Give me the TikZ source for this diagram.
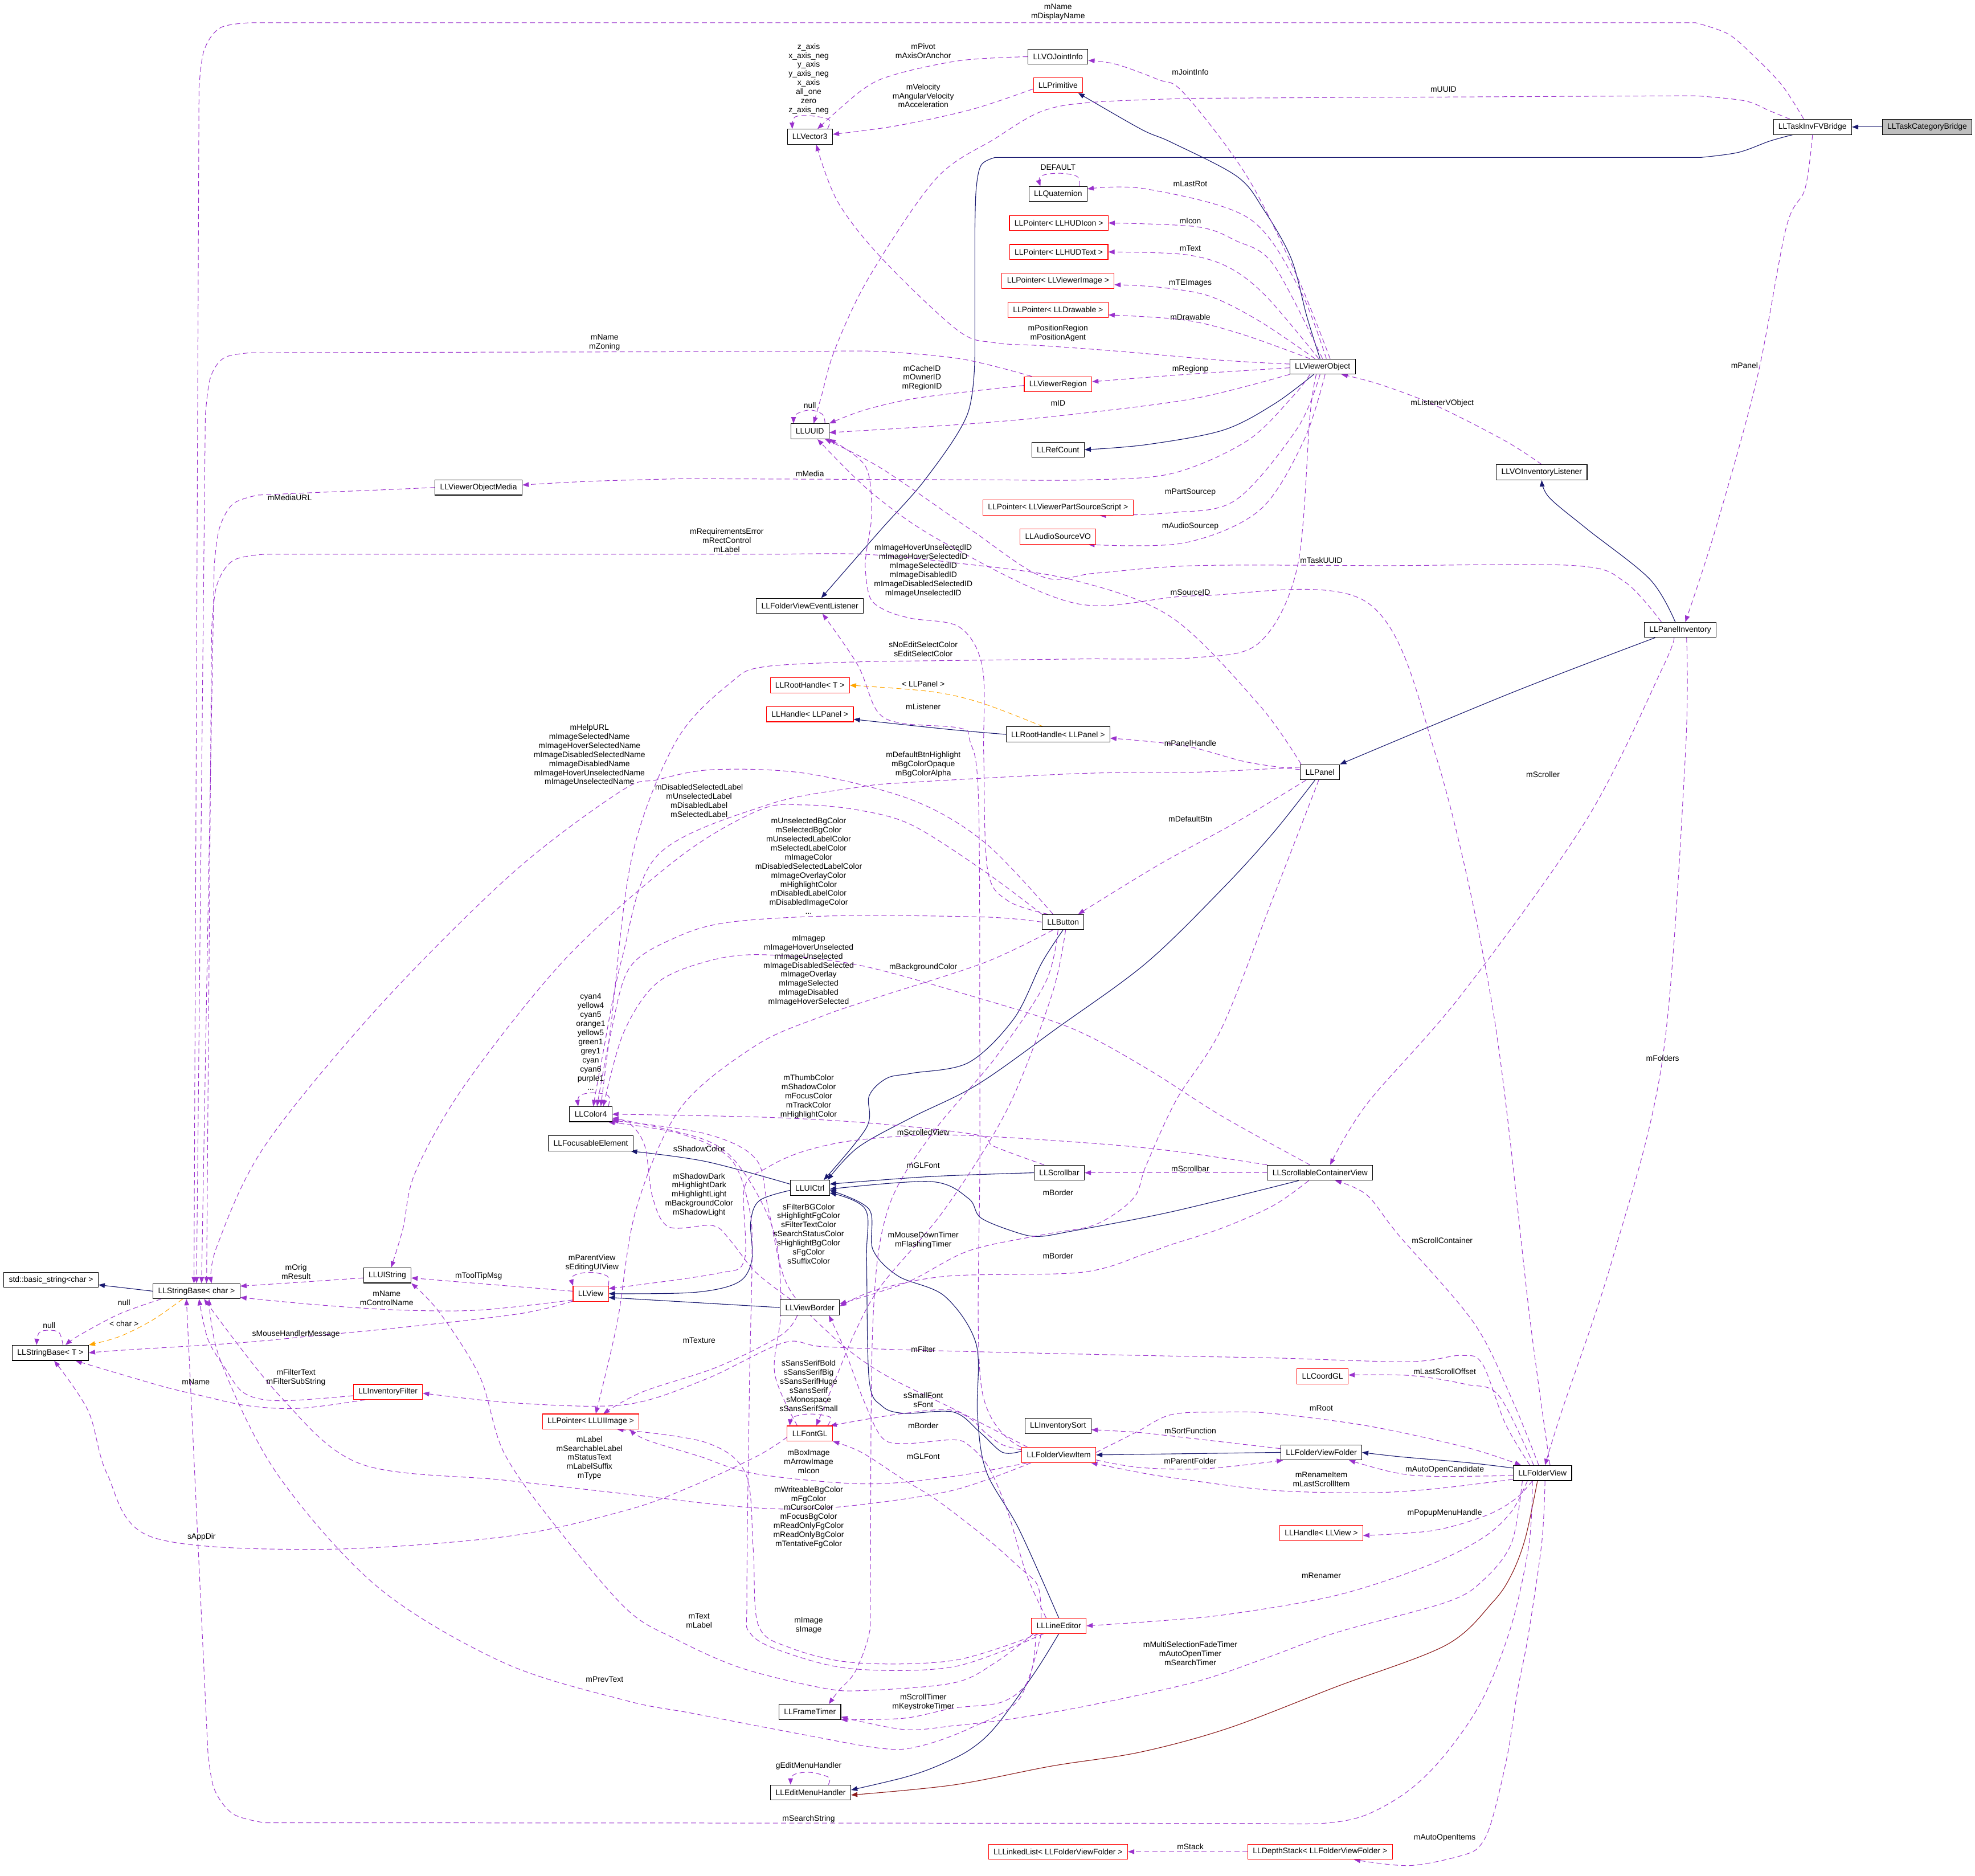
\documentclass[tikz,border=0pt]{standalone}
\usepackage{fontspec}
\setmainfont{Liberation Sans}
\usetikzlibrary{arrows.meta}
\definecolor{navy}{HTML}{191970}
\definecolor{purp}{HTML}{9A32CD}
\definecolor{orng}{HTML}{FFA500}
\definecolor{dred}{HTML}{8B1A1A}
\definecolor{gfill}{HTML}{BFBFBF}
\pgfdeclarelayer{bg}
\pgfsetlayers{bg,main}
\begin{document}
\begin{tikzpicture}[x=1pt,y=-1pt,
  font=\fontsize{6.3}{7.2}\selectfont,
  cls/.style={draw=black,line width=0.5pt,inner xsep=4pt,inner ysep=0pt,minimum height=12pt,fill=white},
  rcls/.style={cls,draw=red},
  cur/.style={cls,fill=gfill},
  lbl/.style={align=center,inner sep=0pt},
  tip/.style={-{Triangle[length=5pt,width=3.8pt]}},
  inh/.style={tip,draw=navy,line width=0.5pt},
  use/.style={tip,draw=purp,line width=0.45pt,dash pattern=on 4pt off 2.5pt},
  tpl/.style={tip,draw=orng,line width=0.45pt,dash pattern=on 4pt off 2.5pt},
  prv/.style={tip,draw=dred,line width=0.5pt},
  sm/.style={smooth,tension=0.55}]
\useasboundingbox (0,0) rectangle (1568,1489);
% ---------------- nodes
\node[cur] (tcb) at (1530,100.8) {LLTaskCategoryBridge};
\node[cls] (tifb) at (1439,100.8) {LLTaskInvFVBridge};
\node[cls] (jointinfo) at (840,45) {LLVOJointInfo};
\node[rcls] (prim) at (840,67.6) {LLPrimitive};
\node[cls] (v3) at (643,108.6) {LLVector3};
\node[cls] (quat) at (840,154) {LLQuaternion};
\node[rcls] (hudicon) at (840.6,177) {LLPointer< LLHUDIcon >};
\node[rcls] (hudtext) at (840.6,200) {LLPointer< LLHUDText >};
\node[rcls] (vimg) at (840,223) {LLPointer< LLViewerImage >};
\node[rcls] (drawable) at (840,246) {LLPointer< LLDrawable >};
\node[cls] (vobj) at (1050,291) {LLViewerObject};
\node[rcls] (vregion) at (840,305) {LLViewerRegion};
\node[cls] (uuid) at (643,342.4) {LLUUID};
\node[cls] (refcount) at (840,357) {LLRefCount};
\node[cls] (vomedia) at (380,387) {LLViewerObjectMedia};
\node[rcls] (partsrc) at (840,403) {LLPointer< LLViewerPartSourceScript >};
\node[rcls] (audio) at (840,426) {LLAudioSourceVO};
\node[cls] (voinvl) at (1224,375) {LLVOInventoryListener};
\node[cls] (fvel) at (643,481) {LLFolderViewEventListener};
\node[cls] (panelinv) at (1334,500) {LLPanelInventory};
\node[rcls] (roothT) at (643,544) {LLRootHandle< T >};
\node[rcls] (handleP) at (643,567) {LLHandle< LLPanel >};
\node[cls] (roothP) at (840,583) {LLRootHandle< LLPanel >};
\node[cls] (panel) at (1048,613) {LLPanel};
\node[cls] (button) at (844,732) {LLButton};
\node[cls] (color4) at (469,884.5) {LLColor4};
\node[cls] (focus) at (469,907.6) {LLFocusableElement};
\node[cls] (uictrl) at (643,943) {LLUICtrl};
\node[cls] (scrollbar) at (841,931) {LLScrollbar};
\node[cls] (scv) at (1048,931) {LLScrollableContainerView};
\node[cls] (stdstr) at (40.5,1016) {std::basic\_string<char >};
\node[cls] (sbchar) at (156,1025) {LLStringBase< char >};
\node[cls] (uistr) at (307.5,1012.5) {LLUIString};
\node[rcls] (view) at (469,1027) {LLView};
\node[cls] (sbT) at (40,1074) {LLStringBase< T >};
\node[cls] (vborder) at (643,1038) {LLViewBorder};
\node[rcls] (invfilter) at (308,1105) {LLInventoryFilter};
\node[rcls] (uiimage) at (469,1128.5) {LLPointer< LLUIImage >};
\node[rcls] (fontgl) at (643,1138) {LLFontGL};
\node[rcls] (coordgl) at (1050,1092.6) {LLCoordGL};
\node[cls] (invsort) at (840,1132) {LLInventorySort};
\node[rcls] (fvitem) at (840.6,1155) {LLFolderViewItem};
\node[cls] (fvfolder) at (1049,1153) {LLFolderViewFolder};
\node[cls] (fview) at (1224.6,1169.4) {LLFolderView};
\node[rcls] (handleV) at (1049,1217) {LLHandle< LLView >};
\node[rcls] (lineed) at (840.6,1290.7) {LLLineEditor};
\node[cls] (frametimer) at (643,1359) {LLFrameTimer};
\node[cls] (editmenu) at (643.6,1423) {LLEditMenuHandler};
\node[rcls] (linkedlist) at (840,1470) {LLLinkedList< LLFolderViewFolder >};
\node[rcls] (depthstack) at (1048,1470) {LLDepthStack< LLFolderViewFolder >};
% ---------------- labels
\node[lbl] (l1) at (840,9.5) {mName\\mDisplayName};
\node[lbl] (l2) at (1146,71) {mUUID};
\node[lbl] (l3) at (1385,290) {mPanel};
\node[lbl] (l4) at (642,62.5) {z\_axis\\x\_axis\_neg\\y\_axis\\y\_axis\_neg\\x\_axis\\all\_one\\zero\\z\_axis\_neg};
\node[lbl] (l5) at (733,40.5) {mPivot\\mAxisOrAnchor};
\node[lbl] (l6) at (733,76) {mVelocity\\mAngularVelocity\\mAcceleration};
\node[lbl] (l7) at (945,57) {mJointInfo};
\node[lbl] (l8) at (840,133) {DEFAULT};
\node[lbl] (l9) at (945,146) {mLastRot};
\node[lbl] (l10) at (945,175.5) {mIcon};
\node[lbl] (l11) at (945,197) {mText};
\node[lbl] (l12) at (945,225) {mTEImages};
\node[lbl] (l13) at (945,251.5) {mDrawable};
\node[lbl] (l14) at (840,264.5) {mPositionRegion\\mPositionAgent};
\node[lbl] (l15) at (945,293) {mRegionp};
\node[lbl] (l16) at (732,300) {mCacheID\\mOwnerID\\mRegionID};
\node[lbl] (l17) at (643,322) {null};
\node[lbl] (l18) at (840,320) {mID};
\node[lbl] (l19) at (480,272) {mName\\mZoning};
\node[lbl] (l20) at (230,395) {mMediaURL};
\node[lbl] (l21) at (643,376) {mMedia};
\node[lbl] (l22) at (1145,320) {mListenerVObject};
\node[lbl] (l23) at (945,391) {mPartSourcep};
\node[lbl] (l24) at (945,418) {mAudioSourcep};
\node[lbl] (l25) at (577,429) {mRequirementsError\\mRectControl\\mLabel};
\node[lbl] (l26) at (733,453) {mImageHoverUnselectedID\\mImageHoverSelectedID\\mImageSelectedID\\mImageDisabledID\\mImageDisabledSelectedID\\mImageUnselectedID};
\node[lbl] (l27) at (1049,445) {mTaskUUID};
\node[lbl] (l28) at (945,470) {mSourceID};
\node[lbl] (l29) at (733,515.5) {sNoEditSelectColor\\sEditSelectColor};
\node[lbl] (l30) at (733,543) {< LLPanel >};
\node[lbl] (l31) at (733,561) {mListener};
\node[lbl] (l32) at (945,590) {mPanelHandle};
\node[lbl] (l33) at (468,599.5) {mHelpURL\\mImageSelectedName\\mImageHoverSelectedName\\mImageDisabledSelectedName\\mImageDisabledName\\mImageHoverUnselectedName\\mImageUnselectedName};
\node[lbl] (l34) at (733,607) {mDefaultBtnHighlight\\mBgColorOpaque\\mBgColorAlpha};
\node[lbl] (l35) at (555,635.5) {mDisabledSelectedLabel\\mUnselectedLabel\\mDisabledLabel\\mSelectedLabel};
\node[lbl] (l36) at (1225,615) {mScroller};
\node[lbl] (l37) at (945,650) {mDefaultBtn};
\node[lbl] (l38) at (642,687.5) {mUnselectedBgColor\\mSelectedBgColor\\mUnselectedLabelColor\\mSelectedLabelColor\\mImageColor\\mDisabledSelectedLabelColor\\mImageOverlayColor\\mHighlightColor\\mDisabledLabelColor\\mDisabledImageColor\\...};
\node[lbl] (l39) at (642,770.5) {mImagep\\mImageHoverUnselected\\mImageUnselected\\mImageDisabledSelected\\mImageOverlay\\mImageSelected\\mImageDisabled\\mImageHoverSelected};
\node[lbl] (l40) at (733,768) {mBackgroundColor};
\node[lbl] (l41) at (469,827) {cyan4\\yellow4\\cyan5\\orange1\\yellow5\\green1\\grey1\\cyan\\cyan6\\purple1\\...};
\node[lbl] (l42) at (1320,840) {mFolders};
\node[lbl] (l43) at (642,870.5) {mThumbColor\\mShadowColor\\mFocusColor\\mTrackColor\\mHighlightColor};
\node[lbl] (l44) at (733,899) {mScrolledView};
\node[lbl] (l45) at (555,912) {sShadowColor};
\node[lbl] (l46) at (733,925) {mGLFont};
\node[lbl] (l47) at (945,928) {mScrollbar};
\node[lbl] (l48) at (555,948.5) {mShadowDark\\mHighlightDark\\mHighlightLight\\mBackgroundColor\\mShadowLight};
\node[lbl] (l49) at (840,947) {mBorder};
\node[lbl] (l50) at (642,979.5) {sFilterBGColor\\sHighlightFgColor\\sFilterTextColor\\sSearchStatusColor\\sHighlightBgColor\\sFgColor\\sSuffixColor};
\node[lbl] (l51) at (733,984.5) {mMouseDownTimer\\mFlashingTimer};
\node[lbl] (l52) at (1145,985) {mScrollContainer};
\node[lbl] (l53) at (840,997) {mBorder};
\node[lbl] (l54) at (470,1002.5) {mParentView\\sEditingUIView};
\node[lbl] (l55) at (235,1009.5) {mOrig\\mResult};
\node[lbl] (l56) at (380,1013) {mToolTipMsg};
\node[lbl] (l57) at (307,1030.5) {mName\\mControlName};
\node[lbl] (l58) at (98.5,1034) {null};
\node[lbl] (l59) at (98.5,1051) {< char >};
\node[lbl] (l60) at (39,1052) {null};
\node[lbl] (l61) at (235,1059) {sMouseHandlerMessage};
\node[lbl] (l62) at (555,1064) {mTexture};
\node[lbl] (l63) at (733,1071) {mFilter};
\node[lbl] (l64) at (235,1093.5) {mFilterText\\mFilterSubString};
\node[lbl] (l65) at (155.5,1097) {mName};
\node[lbl] (l66) at (642,1100) {sSansSerifBold\\sSansSerifBig\\sSansSerifHuge\\sSansSerif\\sMonospace\\sSansSerifSmall};
\node[lbl] (l67) at (1147,1089) {mLastScrollOffset};
\node[lbl] (l68) at (733,1111.5) {sSmallFont\\sFont};
\node[lbl] (l69) at (1049,1118) {mRoot};
\node[lbl] (l70) at (733,1132) {mBorder};
\node[lbl] (l71) at (945,1136) {mSortFunction};
\node[lbl] (l72) at (642,1160.5) {mBoxImage\\mArrowImage\\mIcon};
\node[lbl] (l73) at (468,1157.5) {mLabel\\mSearchableLabel\\mStatusText\\mLabelSuffix\\mType};
\node[lbl] (l74) at (733,1156.5) {mGLFont};
\node[lbl] (l75) at (945,1160) {mParentFolder};
\node[lbl] (l76) at (1147,1167) {mAutoOpenCandidate};
\node[lbl] (l77) at (1049,1174.5) {mRenameItem\\mLastScrollItem};
\node[lbl] (l78) at (642,1204.5) {mWriteableBgColor\\mFgColor\\mCursorColor\\mFocusBgColor\\mReadOnlyFgColor\\mReadOnlyBgColor\\mTentativeFgColor};
\node[lbl] (l79) at (1147,1201) {mPopupMenuHandle};
\node[lbl] (l80) at (160,1220) {sAppDir};
\node[lbl] (l81) at (1049,1251) {mRenamer};
\node[lbl] (l82) at (555,1286.5) {mText\\mLabel};
\node[lbl] (l83) at (642,1290.5) {mImage\\sImage};
\node[lbl] (l84) at (945,1312.5) {mMultiSelectionFadeTimer\\mAutoOpenTimer\\mSearchTimer};
\node[lbl] (l85) at (480,1333) {mPrevText};
\node[lbl] (l86) at (733,1351.5) {mScrollTimer\\mKeystrokeTimer};
\node[lbl] (l87) at (642,1402) {gEditMenuHandler};
\node[lbl] (l88) at (642,1444) {mSearchString};
\node[lbl] (l89) at (945,1466) {mStack};
\node[lbl] (l90) at (1147,1459) {mAutoOpenItems};
% ---------------- edges
\begin{pgfonlayer}{bg}
\fill[white] (0,0) rectangle (1568,1489);
% inheritance
\draw[inh] (tcb.west) -- (tifb.east);
\draw[inh] plot[sm] coordinates {([xshift=-16]tifb.south) (1405,112) (1380,121) (1350,125)} -- plot[sm] coordinates {(790,125) (779,131) (775,150) (774,182)} -- plot[sm] coordinates {(774,280) (768,329) (735,380) (698,422) ([xshift=9]fvel.north)};
\draw[inh] plot[sm] coordinates {([xshift=-2]vobj.north) (1037.6,251.5) (1025,205) (1003,166) (982,140) (930,113) (906,102.6) ([xshift=16]prim.south)};
\draw[inh] plot[sm] coordinates {([xshift=-7]vobj.south) (1011.6,320.7) (971,341.5) (910,353) (refcount.east)};
\draw[inh] plot[sm] coordinates {([xshift=-4]panelinv.north) (1310,460) (1260,420) (1230,395) (voinvl.south)};
\draw[inh] plot[sm] coordinates {([xshift=-20]panelinv.south) (1200,550) (panel.north east)};
\draw[inh] plot[sm] coordinates {([xshift=-4]panel.south) (1011,661) (971,705) (910,764.5) (839.5,816) (776,861) (724,887) (681,911) ([xshift=14]uictrl.north)};
\draw[inh] plot[sm] coordinates {(button.south) (827,764.5) (805,808.6) (769,843.5) (724,852) (704,856) (690,870) (688,895) ([xshift=11]uictrl.north)};
\draw[inh] plot[sm] coordinates {(scrollbar.west) (739,934) ([yshift=3]uictrl.east)};
\draw[inh] plot[sm] coordinates {([xshift=-17]scv.south) (930,962) (850,977.5) (825.6,981.5) (809,979) (779,967) (769,951.5) (739,938) ([yshift=-1]uictrl.east)};
\draw[inh] plot[sm] coordinates {([yshift=3]uictrl.west) (560,922) ([xshift=-2]focus.south east)};
\draw[inh] plot[sm] coordinates {([yshift=-2]uictrl.west) (603,953) (596,970) (597,1000) (586,1018) (551,1026) (view.east)};
\draw[inh] (vborder.west) -- ([yshift=-3]view.east);
\draw[inh] (sbchar.west) -- ([yshift=-4]stdstr.east);
\draw[inh] plot[sm] coordinates {([yshift=3]fvitem.west) (796,1153) (778,1137) (757,1121) (718,1122) (700,1116) (690,1095) (688,1000) (687,960) ([yshift=-4]uictrl.east)};
\draw[inh] plot[sm] coordinates {(lineed.north) (809,1214) (783,1168) (776,1123) (775,1067) (750,1029) (713,1013) (693,992) (690,960) ([yshift=-2]uictrl.east)};
\draw[inh] (fvfolder.west) -- (fvitem.east);
\draw[inh] plot[sm] coordinates {([yshift=4]fview.west) (1164,1161) (1112,1156.5) (fvfolder.east)};
\draw[inh] plot[sm] coordinates {(lineed.south) (822,1327) (791,1370) (770,1389) (744,1402) (718,1411) ([yshift=2]editmenu.east)};
\draw[prv] plot[sm] coordinates {([xshift=-4]fview.south) (1211,1221) (1200,1250) (1185,1272) (1148,1306) (1061,1339) (975,1372) (905,1391) (835,1402) (757,1417) ([yshift=-2]editmenu.east)};
\draw[inh] plot[sm] coordinates {(roothP.west) (753,579) ([yshift=-4]handleP.east)};
% templates
\draw[tpl] plot[sm] coordinates {([xshift=-12]roothP.north) (779,558) (739,549) (roothT.east)};
\draw[tpl] plot[sm] coordinates {([xshift=-11]sbchar.south) (121,1048) (95,1061) (sbT.north east)};
% usage
\draw[use] plot[sm] coordinates {([xshift=-7]tifb.north) (1415,68) (1393,45) (1372,27) (1346,18)} -- plot[sm] coordinates {(200,18) (175,22) (162,40) (158,70)} -- ([xshift=-2]sbchar.north);
\draw[use] plot[sm] coordinates {([xshift=-18]tifb.north) (1405,88) (1385,80) (1346,76)} -- plot[sm] coordinates {(950,78) (870,81) (828,88) (790,110) (743,142) (690,220) (663,277) (652,315) ([xshift=3]uuid.north)};
\draw[use] plot[sm] coordinates {(tifb.south) (1433,150) (1418,181) (1395,300) (1362,420) ([xshift=4]panelinv.north)};
\draw[use] plot[sm] coordinates {(jointinfo.west) (763,48) (711,59) (685,71) ([xshift=6]v3.north)};
\draw[use] plot[sm] coordinates {([yshift=-3]prim.west) (771,87) (711,100) ([yshift=2]v3.east)};
\draw[use] plot[sm] coordinates {([xshift=14]v3.north) (658,95) (644,92) (631,93) ([xshift=-14]v3.north)};
\draw[use] plot[sm] coordinates {([xshift=6]vobj.north) (1030,220) (990,140) (940,74) (919,63) (886,51) ([yshift=-3]jointinfo.east)};
\draw[use] plot[sm] coordinates {([yshift=2]vobj.west) (970,286) (890,279) (829,274.5) (789,272) (760,262) (700,205) (665,160) ([xshift=5]v3.south)};
\draw[use] plot[sm] coordinates {([xshift=17]quat.north) (855,140) (840,137.5) (826,140) ([xshift=-14]quat.north)};
\draw[use] plot[sm] coordinates {([xshift=3]vobj.north) (1031,228) (991,173) (910,150) ([yshift=4]quat.east)};
\draw[use] plot[sm] coordinates {(vobj.north) (1011,210) (981,191) (950,180) (hudicon.east)};
\draw[use] plot[sm] coordinates {([xshift=-3]vobj.north) (1005,235) (975,212) (940,202) (hudtext.east)};
\draw[use] plot[sm] coordinates {([xshift=-6]vobj.north) (1000,255) (960,235) (920,228) ([yshift=-3]vimg.east)};
\draw[use] plot[sm] coordinates {([xshift=-10]vobj.north) (985,265) (940,254) ([yshift=-4]drawable.east)};
\draw[use] plot[sm] coordinates {([yshift=-1]vobj.west) (945,297) ([yshift=2]vregion.east)};
\draw[use] plot[sm] coordinates {(vobj.south west) (950,316) (860,328) (776,336) ([yshift=-1]uuid.east)};
\draw[use] plot[sm] coordinates {([yshift=-1]vregion.west) (776.6,310) (724.5,316.6) (686,325.6) (uuid.north east)};
\draw[use] plot[sm] coordinates {([xshift=12]uuid.north) (653,329) (643,325.5) (632,329) ([xshift=-13]uuid.north)};
\draw[use] plot[sm] coordinates {([xshift=-10]vobj.south) (1027,314) (990,350) (930,376) (860,381) (800,381)} -- plot[sm] coordinates {(543,380) (470,382) ([yshift=2]vomedia.east)};
\draw[use] plot[sm] coordinates {([xshift=-2]vobj.south) (1030,340) (981,397) (930,407) ([xshift=33]partsrc.south)};
\draw[use] plot[sm] coordinates {([xshift=2]vobj.south) (1035,350) (1000,405) (940,431) ([xshift=24]audio.south)};
\draw[use] plot[sm] coordinates {(voinvl.north) (1195,350) (1140,322) (1095,305) ([xshift=15]vobj.south)};
\draw[use] plot[sm] coordinates {([xshift=-15]panelinv.north) (1290,462) (1250,449) (1100,449) (950,449) (870,455) (828,458) (770,420) (700,372) ([xshift=12]uuid.south)};
\draw[use] plot[sm] coordinates {([xshift=6]fview.north) (1215,1050) (1185,800) (1140,600) (1085,478) (950,473) (854,479) (750,431) (693,392) ([xshift=6]uuid.south)};
\draw[use] plot[sm] coordinates {([xshift=-30]fvitem.north) (779,1100) (778,900) (777,640) (770,588) (762,578) (715,574) (696,564) (681,528) ([xshift=10]fvel.south)};
\draw[use] plot[sm] coordinates {([xshift=-12]button.north) (800,715) (784,690) (781,600) (780,530) (762,498) (724,491) (704,485) (691,475) (687,452) (688,437) (692,407) (687,370) (uuid.south east)};
\draw[use] plot[sm] coordinates {([xshift=-5]vobj.south) (1040,330) (1030,450) (1000,510) (950,522) (870,523)} -- plot[sm] coordinates {(700,525) (609,529) (580,542) (537,588) (502,679) (485,814) ([xshift=8]color4.north)};
\draw[use] plot[sm] coordinates {([yshift=2]panel.west) (990,605) (940,592) ([yshift=-3]roothP.east)};
\draw[use] plot[sm] coordinates {([xshift=-8]button.north) (782,669) (724,635) (640,614) (566,611) (522,619) (493,628) (407,693) (300,800) (210,910) (172,990) ([xshift=12]sbchar.north)};
\draw[use] plot[sm] coordinates {(button.north west) (782,692) (724,655) (681,643) (638,639) (603,643) (540,680) (450,760) (370,860) (330,930) (320,975) ([xshift=3]uistr.north)};
\draw[use] plot[sm] coordinates {([xshift=-15]panel.north) (1000,560) (930,490) (850,460) (760,447) (686,440) (620,440)} -- plot[sm] coordinates {(210,440) (185,445) (172,465) (168,500)} -- ([xshift=8]sbchar.north);
\draw[use] plot[sm] coordinates {(vomedia.west) (300,389) (250,391)} -- plot[sm] coordinates {(205,393) (185,400) (174,420) (170,450)} -- ([xshift=4]sbchar.north);
\draw[use] plot[sm] coordinates {([xshift=-21]vregion.north) (763.5,285) (698,279) (650,279)} -- plot[sm] coordinates {(200,280) (178,284) (167,300) (163,330)} -- (sbchar.north);
\draw[use] plot[sm] coordinates {([yshift=4]panel.west) (950,613) (859,614) (724,621) (681,625) (609,639) (522,679) (494,760) (478,840) ([xshift=2]color4.north)};
\draw[use] plot[sm] coordinates {([xshift=-11]panel.south) (981,653) (920,686.5) ([xshift=12]button.north)};
\draw[use] plot[sm] coordinates {(button.west) (782,728) (666,727) (580,732) (537,744) (500,768) (485,820) ([xshift=5]color4.north)};
\draw[use] plot[sm] coordinates {([xshift=-8]button.south) (782,764) (696,792) (652,807) (600,830) (540,880) (505,960) (490,1050) ([xshift=4]uiimage.north)};
\draw[use] plot[sm] coordinates {([xshift=-8]scv.north) (970,886) (910,848) (850,816) (769,790) (681,766) (609,758) (566,762) (522,780) (495,820) ([xshift=10]color4.north)};
\draw[use] plot[sm] coordinates {([xshift=14]color4.north) (483,870) (471,867.5) (460,870) ([xshift=-10]color4.north)};
\draw[use] plot[sm] coordinates {([xshift=-12]scrollbar.north) (789,910) (776,901) (696,892) (609,887) (color4.east)};
\draw[use] plot[sm] coordinates {(scv.north west) (930,913.6) (859,907) (753,901) (681,905) (638,914) (609,927) (591,943) (591,1000) (569,1011) ([yshift=4]view.east)};
\draw[use] plot[sm] coordinates {([xshift=-10]fontgl.north) (615,1090) (620,1040) (615,980) (590,930) (560,905) ([yshift=-3]color4.east)};
\draw[use] plot[sm] coordinates {([xshift=2]button.south) (835,790) (800,880) (750,960) (700,1020) (680,1055) (664,1093) (653,1120) ([xshift=5]fontgl.north)};
\draw[use] (scv.west) -- (scrollbar.east);
\draw[use] plot[sm] coordinates {([xshift=-15]vborder.north) (600,1010) (580,985) (566,973) (531,974) (518,950) (512,910) (500,892) ([yshift=-4]color4.east)};
\draw[use] plot[sm] coordinates {([xshift=-25]fvitem.north) (760,1120) (700,1090) (660,1060) (625,1020) (610,960) (600,920) (560,900) ([yshift=-5]color4.east)};
\draw[use] plot[sm] coordinates {([xshift=-4]button.south) (830,780) (790,840) (740,900) (705,960) (693,1050) (691,1266) (690,1297) (679,1327) (666,1342) ([xshift=15]frametimer.north)};
\draw[use] plot[sm] coordinates {([xshift=-3]fview.north) (1200,1110) (1170,1050) (1110,980) (1085,948.5) ([xshift=12]scv.south)};
\draw[use] plot[sm] coordinates {([xshift=-1]panel.south) (1011,712) (970,816) (934,873) (910,925) (900,951) (870,972) (829,980) (769,993) (720,1018) ([yshift=3]vborder.east)};
\draw[use] plot[sm] coordinates {([xshift=-9]scv.south) (1011,957) (970,975) (930,988) (910,995) (859,1010) (753,1013) (696,1024) ([yshift=1]vborder.east)};
\draw[use] plot[sm] coordinates {([yshift=-2]uistr.west) (222,1019) ([yshift=4]sbchar.east)};
\draw[use] plot[sm] coordinates {([yshift=2]view.west) (381,1019) ([yshift=-2]uistr.east)};
\draw[use] plot[sm] coordinates {([yshift=-5]view.west) (381,1040) (318,1040) (254,1036) ([yshift=-5]sbchar.east)};
\draw[use] plot[sm] coordinates {([xshift=-28]sbchar.south) (95,1043) (63,1060) ([xshift=12]sbT.north)};
\draw[use] plot[sm] coordinates {([xshift=10]sbT.north) (47,1058) (39,1056) (31,1058) ([xshift=-11]sbT.north)};
\draw[use] plot[sm] coordinates {([yshift=-6]view.west) (412,1043) (317,1054) (254,1060) (190,1066) (95,1072) (sbT.east)};
\draw[use] plot[sm] coordinates {([xshift=14]view.north) (482,1013) (468,1010) (455,1013) ([xshift=-14]view.north)};
\draw[use] plot[sm] coordinates {([xshift=-10]vborder.south) (620,1060) (570,1085) (510,1105) ([xshift=10]uiimage.north)};
\draw[use] plot[sm] coordinates {([xshift=-10]fview.north) (1195,1130) (1177,1083) (1160,1076) (1118,1081) (1010,1078) (905,1076) (733,1072) (653,1069) (622,1066) (560,1095) (497,1115) (412,1114) ([yshift=-1]invfilter.east)};
\draw[use] plot[sm] coordinates {([yshift=-3]invfilter.west) (222,1112) (194,1106) (178,1085) (165,1063) ([xshift=2]sbchar.south)};
\draw[use] plot[sm] coordinates {([xshift=-18]invfilter.south) (238,1118) (197,1116) (160,1108) (127,1100) ([xshift=20]sbT.south)};
\draw[use] plot[sm] coordinates {([xshift=14]fontgl.north) (659,1125) (643,1122.5) (630,1125) ([xshift=-16]fontgl.north)};
\draw[use] plot[sm] coordinates {([xshift=-7]fview.north) (1190,1108) (1164,1099) (1120,1092) ([yshift=1]coordgl.east)};
\draw[use] plot[sm] coordinates {([yshift=4]fvitem.west) (796,1147) (783,1138) (770,1126) (752,1119) (718,1122) (692,1126) ([xshift=-2]fontgl.north east)};
\draw[use] plot[sm] coordinates {([yshift=2]fvitem.east) (902,1137) (930,1123) (970,1121) (1009,1122) (1086,1132) (1164,1149) ([xshift=-17]fview.north)};
\draw[use] plot[sm] coordinates {([xshift=-10]lineed.north) (815,1250) (800,1200) (785,1165) (770,1148) (757,1143) (718,1146) (700,1141) (685,1110) (670,1070) ([xshift=15]vborder.south)};
\draw[use] plot[sm] coordinates {([yshift=3]fvfolder.west) (982,1146) (930,1140) (902,1137) ([yshift=-3]invsort.east)};
\draw[use] plot[sm] coordinates {([xshift=-25]fvitem.south) (757,1172) (687,1178) (600,1170) (555,1156) (513,1143) ([xshift=31]uiimage.south)};
\draw[use] plot[sm] coordinates {([xshift=-22]fvitem.south) (757,1183) (679,1195) (627,1198) (575,1195) (497,1186) (400,1175) (286,1162) (222,1108) ([xshift=6]sbchar.south)};
\draw[use] plot[sm] coordinates {([xshift=-14]lineed.north) (824,1259) (809,1244) (783,1221) (744,1191) (718,1175) (684,1153) (fontgl.south east)};
\draw[use] plot[sm] coordinates {([yshift=-4]fvitem.east) (905,1165) (956,1166) ([xshift=2]fvfolder.south west)};
\draw[use] plot[sm] coordinates {([yshift=-2]fview.west) (1138,1172) (1107,1169) ([xshift=22]fvfolder.south)};
\draw[use] plot[sm] coordinates {([yshift=-5]fview.west) (1138,1182) (1086,1185) (1009,1183) (930,1173) (905,1169) ([xshift=-4]fvitem.south east)};
\draw[use] plot[sm] coordinates {([xshift=-12]lineed.south) (758,1323) (679,1325) (627,1313) (596,1297) (593,1266) (595,1100) (597,1000) (595,960) (580,920) (540,900) ([xshift=-3]color4.south east)};
\draw[use] plot[sm] coordinates {([xshift=-8]fview.south) (1203,1190) (1180,1203) (1138,1215) ([yshift=-2]handleV.east)};
\draw[use] plot[sm] coordinates {([yshift=-3]fontgl.west) (601,1156) (549,1180) (497,1199) (400,1220) (250,1230) (120,1220) (85,1170) (70,1120) ([xshift=3]sbT.south)};
\draw[use] plot[sm] coordinates {([xshift=-12]fview.south) (1200,1200) (1177,1221) (1133,1243) (1061,1266.5) (974.6,1281.6) (917,1287) (lineed.east)};
\draw[use] plot[sm] coordinates {([xshift=-20]lineed.south) (790,1320) (757,1336) (687,1342) (653,1340) (588,1324) (536,1301) (497,1277) (440,1210) (400,1153) (381,1093) (349,1042) (uistr.south east)};
\draw[use] plot[sm] coordinates {([xshift=-16]lineed.south) (758,1318) (679,1320) (627,1308) (602,1290) (598,1230) (592,1170) (560,1145) ([xshift=21]uiimage.south)};
\draw[use] plot[sm] coordinates {([xshift=-16]fview.south) (1200,1225) (1177,1255) (1148,1272) (1061,1296) (1003,1317) (946,1336) (859,1355) (800,1365) (757,1370) (718,1373) ([yshift=-4]frametimer.east)};
\draw[use] plot[sm] coordinates {([xshift=-14]lineed.south) (809,1349) (770,1372) (731,1386) (700,1388) (627,1375) (549,1360) (497,1350) (400,1320) (300,1260) (220,1170) (175,1080) ([xshift=10]sbchar.south)};
\draw[use] plot[sm] coordinates {([xshift=-18]lineed.south) (817,1333) (796,1351) (757,1356) (718,1364) (frametimer.south east)};
\draw[use] plot[sm] coordinates {([xshift=14]editmenu.north) (658,1411) (643,1407) (630,1409) ([xshift=-16]editmenu.north)};
\draw[use] plot[sm] coordinates {([xshift=-8]fview.south) (1214,1225) (1200,1290) (1177,1349) (1148,1392) (1119,1421) (1084,1441) (1050,1447.5) (1000,1447.5)} -- plot[sm] coordinates {(210,1447) (185,1440) (170,1420) (165,1390)} -- ([xshift=-8]sbchar.south);
\draw[use] plot[sm] coordinates {([xshift=2]fview.south) (1224,1225) (1213,1300) (1205,1341) (1197,1392) (1185,1443) (1176,1464) (1162,1472.6) (1119,1481) ([xshift=27]depthstack.south)};
\draw[use] (depthstack.west) -- (linkedlist.east);
\draw[use] plot[sm] coordinates {([xshift=-5]panelinv.south) (1320,530) (1260,650) (1160,790) (1085.5,876) ([xshift=8]scv.north)};
\draw[use] plot[sm] coordinates {([xshift=5]panelinv.south) (1338,600) (1320,840) (1280,1000) (1240,1120) ([xshift=2]fview.north)};
\end{pgfonlayer}
\end{tikzpicture}
\end{document}
